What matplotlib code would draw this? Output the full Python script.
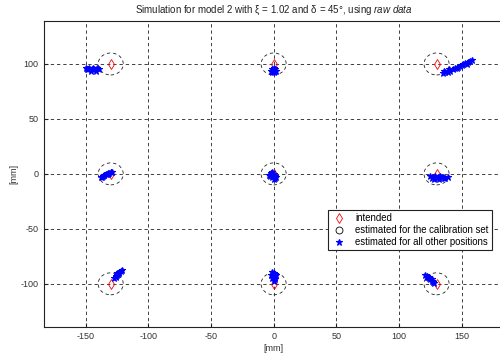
import numpy as np
import matplotlib
matplotlib.use("Agg")
import matplotlib.pyplot as plt
from matplotlib.patches import Circle

plt.rcParams['font.family'] = ['Liberation Sans', 'DejaVu Sans']
plt.rcParams['mathtext.fontset'] = 'custom'
plt.rcParams['mathtext.it'] = 'Liberation Sans:italic'
plt.rcParams['mathtext.rm'] = 'Liberation Sans'
plt.rcParams['axes.unicode_minus'] = False

# intended grid positions [mm]
intended_x = [-130, 0, 130, -130, 0, 130, -130, 0, 130]
intended_y = [100, 100, 100, 0, 0, 0, -100, -100, -100]
tolerance_radius = 10

# calibration-set estimates (hidden under the intended markers)
calib_x = []
calib_y = []

# estimates for all other positions [mm]
est_x = [
    -150, -148, -147, -145, -143, -141, -139, -146, -142, -149, -144,
    -1, 0, 1, -1, 0, 1, 0, -2, 2,
    135, 137, 139, 141, 143, 145, 147, 149, 151, 153, 155, 157, 158, 140, 150, 136, 146, 154,
    -138, -136, -135, -134, -133, -132, -131, -130, -129, -137, -135, -132,
    -4, -2, -1, 0, 1, 2, -3, 0, 1, -2, -1,
    125, 127, 129, 131, 133, 135, 137, 139, 128, 132, 136, 130, 134, 126,
    -127, -126, -125, -124, -123, -122, -121, -125, -126, -123,
    -1, 0, 1, 2, 0, -1, 1, 0, -2, 1,
    121, 122, 123, 124, 125, 126, 127, 128, 124, 122, 126,
]
est_y = [
    96, 95, 96, 95, 95, 96, 95, 94, 94, 95, 96,
    95, 94, 95, 93, 93, 94, 96, 94, 94,
    92, 93, 93, 94, 95, 96, 97, 98, 100, 101, 102, 103, 104, 95, 99, 94, 96, 100,
    -3, -2, -1, 0, 0, 1, 1, 2, 2, -3, -1, 0,
    -1, 1, 2, 0, -2, -3, -2, -5, -4, -1, -3,
    -2, -3, -2, -3, -2, -3, -4, -3, -5, -5, -4, -4, -3, -4,
    -95, -93, -92, -91, -89, -88, -87, -90, -94, -90,
    -89, -90, -91, -92, -94, -95, -96, -97, -92, -93,
    -92, -93, -94, -95, -96, -97, -98, -99, -94, -94, -96,
]

xticks = [-150, -100, -50, 0, 50, 100, 150]
yticks = [-100, -50, 0, 50, 100]

fig = plt.figure(figsize=(5.0, 3.57), dpi=100)
ax = fig.add_axes([0.0886, 0.0849, 0.9174, 0.856])

ax.set_xlim(-183, 183)
ax.set_ylim(-139, 139)
ax.set_xticks(xticks)
ax.set_yticks(yticks)
ax.grid(True, color='#222222', linestyle=(0, (4, 3.5)), linewidth=0.6)
ax.set_axisbelow(True)

for cx, cy in zip(intended_x, intended_y):
    ax.add_patch(Circle((cx, cy), tolerance_radius, fill=False, edgecolor='#222222',
                        linestyle=(0, (4, 3.5)), linewidth=0.6, zorder=2))

ax.plot(intended_x, intended_y, linestyle='none', marker='d', markersize=5.5,
        markerfacecolor='none', markeredgecolor='red', markeredgewidth=0.6,
        label='intended', zorder=3)
ax.plot(calib_x, calib_y, linestyle='none', marker='o', markersize=5,
        markerfacecolor='none', markeredgecolor='black', markeredgewidth=0.6,
        label='estimated for the calibration set', zorder=3)
ax.plot(est_x, est_y, linestyle='none', marker='*', markersize=5,
        color='blue', markeredgewidth=0.8,
        label='estimated for all other positions', zorder=4)

ax.tick_params(direction='in', length=3, labelsize=6.5, labelcolor='#333333',
               color='#222222', top=False, right=False, pad=4)
for s in ax.spines.values():
    s.set_color('#222222')
    s.set_linewidth(0.8)

ax.set_xlabel('[mm]', fontsize=6.5, labelpad=2, color='#333333')
ax.set_ylabel('[mm]', fontsize=6.5, labelpad=2, color='#333333')
ax.set_title(r'Simulation for model 2 with ξ = 1.02 and δ = 45°, using $\it{raw\ data}$',
             fontsize=7, pad=6, color='#222222')

leg = ax.legend(loc='upper right', bbox_to_anchor=(0.976, 0.382), borderaxespad=0,
                fontsize=6.9, frameon=True, fancybox=False, framealpha=1,
                edgecolor='#222222', handlelength=1.6, handletextpad=0.9,
                borderpad=0.35, labelspacing=0.2)
leg.get_frame().set_linewidth(0.8)

fig.savefig('out.png', dpi=100)
